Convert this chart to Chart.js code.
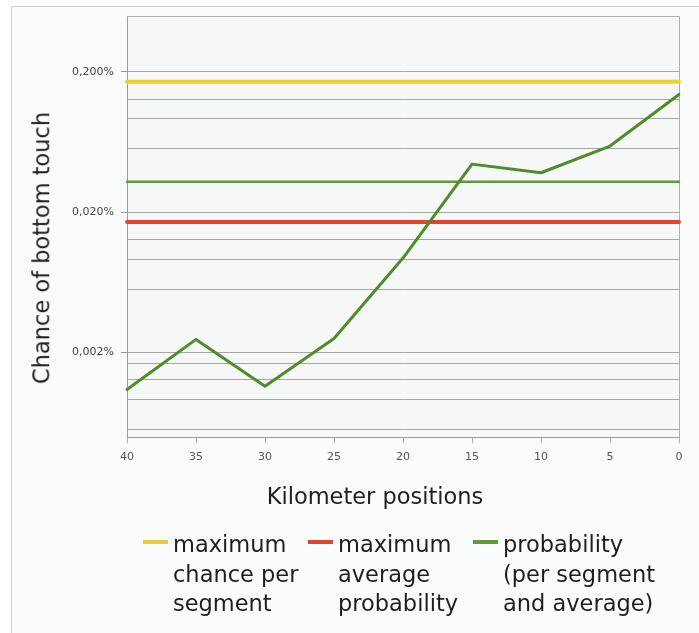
<!DOCTYPE html>
<html>
<head>
<meta charset="utf-8">
<script src="https://cdn.jsdelivr.net/npm/chart.js@4.4.0/dist/chart.umd.min.js"></script>
<style>
  html, body { margin: 0; padding: 0; background: #fff; }
  #wrap { position: relative; width: 699px; height: 633px; overflow: hidden; font-family: 'DejaVu Sans', sans-serif; color: #1e1e1e; }
  #frame { position: absolute; left: 11px; top: 6px; right: -2px; bottom: -2px; border-left: 1px solid #cfcfcf; border-top: 1px solid #cfcfcf; background: #fafcfb; }
  #chart { position: absolute; left: 0; top: 0; }
  .big { position: absolute; font-size: 22.5px; line-height: 29.5px; white-space: nowrap; }
  #ytitle { left: 42px; top: 248px; transform: translate(-50%, -50%) rotate(-90deg); }
  #xtitle { left: 375px; top: 482px; transform: translateX(-50%); }
  .item { top: 530px; padding-left: 30px; }
  .item .dash { position: absolute; left: 0; top: 10px; width: 25px; height: 4px; }
</style>
</head>
<body>
<div id="wrap">
  <div id="frame"></div>
  <canvas id="chart" width="699" height="633"></canvas>
  <div id="ytitle" class="big">Chance of bottom touch</div>
  <div id="xtitle" class="big">Kilometer positions</div>
  <div id="legend"></div>
</div>
<script>
// kilometer positions, counted down to 0
const categories = ['40', '35', '30', '25', '20', '15', '10', '5', '0'];

// values in percent
const probability = [0.00109, 0.00248, 0.00115, 0.00252, 0.00942, 0.0440, 0.0382, 0.0592, 0.138];
const averageProbability = [0.0329, 0.0329, 0.0329, 0.0329, 0.0329, 0.0329, 0.0329, 0.0329, 0.0329];
const maxChancePerSegment = [0.17, 0.17, 0.17, 0.17, 0.17, 0.17, 0.17, 0.17, 0.17];
const maxAverageProbability = [0.017, 0.017, 0.017, 0.017, 0.017, 0.017, 0.017, 0.017, 0.017];

// y axis (log): labelled ticks and the extra grid lines
const yMajorTicks = [0.2, 0.02, 0.002];
const yMinorGrid = [0.128, 0.0925, 0.0566, 0.0128, 0.00925, 0.00566, 0.00166, 0.00128, 0.000925, 0.000566];
const yMin = 0.0005;
const yMax = 0.5;

const legendItems = [
    { lines: ['maximum', 'chance per', 'segment'], color: '#f0c93a', left: 143 },
    { lines: ['maximum', 'average', 'probability'], color: '#d9472e', left: 308 },
    { lines: ['probability', '(per segment', 'and average)'], color: '#5f9b38', left: 473 }
];

Chart.defaults.font.family = "'DejaVu Sans', sans-serif";

const plotFrame = {
    id: 'plotFrame',
    beforeDraw(chart) {
        const { ctx, chartArea: a } = chart;
        ctx.save();
        ctx.fillStyle = '#f6f9f7';
        ctx.fillRect(a.left, a.top, a.right - a.left, a.bottom - a.top);
        ctx.restore();
    },
    beforeDatasetsDraw(chart) {
        const { ctx, chartArea: a } = chart;
        ctx.save();
        ctx.strokeStyle = '#b0b0b0';
        ctx.lineWidth = 1;
        ctx.beginPath();
        ctx.moveTo(a.left, a.top + 0.5);
        ctx.lineTo(a.right + 0.5, a.top + 0.5);
        ctx.lineTo(a.right + 0.5, a.bottom);
        ctx.stroke();
        ctx.restore();
    }
};

const isMajor = v => yMajorTicks.includes(v);

new Chart(document.getElementById('chart'), {
    type: 'line',
    data: {
        labels: categories,
        datasets: [
            { label: 'probability', data: probability, borderColor: '#4e8c2c', borderWidth: 3, order: 0 },
            { label: 'average', data: averageProbability, borderColor: '#5e9a38', borderWidth: 2.5, order: 1 },
            { label: 'maximum average probability', data: maxAverageProbability, borderColor: '#e2452b', borderWidth: 4, order: 2 },
            { label: 'maximum chance per segment', data: maxChancePerSegment, borderColor: '#f2cf2a', borderWidth: 4, order: 3 }
        ]
    },
    options: {
        responsive: false,
        animation: false,
        devicePixelRatio: 1,
        layout: { padding: { left: 0, top: 16, right: 20, bottom: 166 } },
        elements: {
            point: { radius: 0, hoverRadius: 0 },
            line: { tension: 0, fill: false, borderCapStyle: 'round', borderJoinStyle: 'round' }
        },
        plugins: {
            legend: { display: false },
            tooltip: { enabled: false }
        },
        scales: {
            x: {
                type: 'category',
                offset: false,
                afterFit: s => { s.height = 30; },
                grid: { drawOnChartArea: false, drawTicks: true, tickLength: 6, color: '#aaaaaa' },
                border: { display: true, color: '#9c9c9c' },
                ticks: { color: '#555', font: { size: 11 }, padding: 8, maxRotation: 0, autoSkip: false }
            },
            y: {
                type: 'logarithmic',
                min: yMin,
                max: yMax,
                afterFit: s => { s.width = 127; },
                afterBuildTicks: s => {
                    s.ticks = yMajorTicks.concat(yMinorGrid).map(v => ({ value: v, major: false }));
                },
                grid: {
                    color: '#a6a6a6',
                    lineWidth: 1,
                    drawTicks: true,
                    tickLength: 6,
                    tickColor: c => (c.tick && isMajor(c.tick.value)) ? '#9c9c9c' : 'rgba(0,0,0,0)'
                },
                border: { display: true, color: '#9c9c9c' },
                ticks: {
                    autoSkip: false,
                    color: '#444',
                    font: { size: 11 },
                    padding: 7,
                    callback: v => isMajor(v) ? v.toFixed(3).replace('.', ',') + '%' : ''
                }
            }
        }
    },
    plugins: [plotFrame]
});

const legend = document.getElementById('legend');
legendItems.forEach(item => {
    const div = document.createElement('div');
    div.className = 'big item';
    div.style.left = item.left + 'px';
    const dash = document.createElement('span');
    dash.className = 'dash';
    dash.style.background = item.color;
    div.appendChild(dash);
    item.lines.forEach((line, i) => {
        if (i > 0) div.appendChild(document.createElement('br'));
        div.appendChild(document.createTextNode(line));
    });
    legend.appendChild(div);
});
</script>
</body>
</html>
